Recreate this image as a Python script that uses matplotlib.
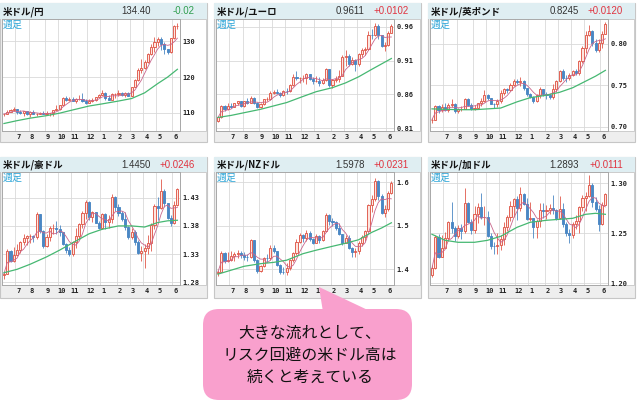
import numpy as np
import pandas as pd
import matplotlib
matplotlib.use('Agg')
import matplotlib.pyplot as plt
from matplotlib.patches import Rectangle, FancyBboxPatch, Polygon

plt.rcParams['font.family'] = ['Noto Sans CJK JP', 'DejaVu Sans']

# ---------------- data ----------------
weeks = np.arange(54)
month_labels = ['7', '8', '9', '10', '11', '12', '1', '2', '3', '4', '5', '6']
month_start = [4, 8, 13, 17, 21, 26, 30, 35, 39, 43, 47, 52]
ma_idx = [0, 4, 8, 13, 17, 21, 26, 30, 35, 39, 43, 47, 50, 53]

# USD/JPY
jpy_open0 = 109.55
jpy_close = [109.67,110.21,110.75,111.05,110.14,110.07,110.55,109.72,110.25,109.59,109.78,109.84,109.71,109.93,109.94,110.73,111.05,112.21,114.21,113.49,113.95,113.40,113.86,114.01,113.38,112.80,113.39,113.72,114.42,115.08,115.56,114.18,113.70,115.23,115.28,115.42,115.00,115.55,114.83,117.29,119.18,122.05,122.50,124.34,126.43,128.50,129.80,130.56,129.25,127.87,127.10,130.89,134.39,134.40]
jpy_high = [109.80,110.82,111.00,111.66,111.10,110.70,110.59,110.59,110.37,110.80,109.90,110.25,110.42,110.45,110.08,110.79,112.08,112.25,114.47,114.70,114.30,114.44,114.17,114.97,115.52,113.90,113.95,114.26,114.50,115.20,116.35,115.85,114.94,115.69,115.51,116.34,115.86,115.80,115.80,117.35,119.40,122.43,125.10,124.69,126.68,129.40,131.25,131.34,131.35,129.77,128.00,130.98,134.56,135.19]
jpy_low = [109.18,109.60,110.10,110.42,109.53,109.70,109.07,109.36,108.72,109.55,109.11,109.60,109.59,109.57,109.11,109.11,110.80,110.83,112.05,113.40,113.26,113.30,112.73,113.60,113.05,112.53,112.95,113.12,113.31,114.34,115.00,113.48,113.47,113.47,114.15,114.82,114.76,114.40,114.65,114.65,117.17,118.90,121.28,122.39,124.08,126.25,126.94,128.62,127.52,126.36,126.36,126.86,130.77,133.60]
jpy_ma26 = [107.0,107.8,108.5,109.2,109.9,110.8,111.9,112.5,113.3,114.0,115.6,118.2,120.0,122.2]

# USD/EUR
eur_open0 = 0.8212
eur_close = [0.8260,0.8429,0.8378,0.8428,0.8420,0.8470,0.8496,0.8425,0.8502,0.8478,0.8549,0.8478,0.8418,0.8465,0.8527,0.8533,0.8624,0.8642,0.8621,0.8589,0.8650,0.8645,0.8738,0.8860,0.8836,0.8836,0.8836,0.8897,0.8833,0.8795,0.8804,0.8763,0.8814,0.8972,0.8734,0.8811,0.8833,0.8873,0.9149,0.9164,0.9050,0.9103,0.9053,0.9195,0.9251,0.9264,0.9483,0.9479,0.9606,0.9470,0.9320,0.9328,0.9508,0.9611]
eur_high = [0.8275,0.8445,0.8445,0.8470,0.8475,0.8480,0.8510,0.8505,0.8510,0.8540,0.8570,0.8560,0.8490,0.8480,0.8535,0.8560,0.8650,0.8665,0.8675,0.8630,0.8660,0.8700,0.8755,0.8905,0.8940,0.8860,0.8880,0.8920,0.8900,0.8850,0.8870,0.8850,0.8840,0.8990,0.8980,0.8830,0.8870,0.8960,0.9180,0.9260,0.9190,0.9150,0.9120,0.9210,0.9290,0.9300,0.9530,0.9560,0.9660,0.9640,0.9470,0.9380,0.9530,0.9640]
eur_low = [0.8200,0.8250,0.8360,0.8375,0.8400,0.8410,0.8450,0.8410,0.8410,0.8460,0.8470,0.8460,0.8400,0.8400,0.8440,0.8500,0.8520,0.8610,0.8600,0.8565,0.8570,0.8610,0.8630,0.8720,0.8810,0.8770,0.8780,0.8760,0.8820,0.8760,0.8780,0.8730,0.8750,0.8800,0.8710,0.8700,0.8780,0.8780,0.8870,0.9020,0.9020,0.9030,0.8950,0.9020,0.9150,0.9180,0.9250,0.9420,0.9460,0.9420,0.9300,0.9240,0.9310,0.9500]
eur_ma26 = [0.826,0.829,0.833,0.838,0.843,0.848,0.857,0.864,0.870,0.877,0.886,0.897,0.905,0.913]

# USD/GBP
gbp_open0 = 0.7075
gbp_close = [0.7086,0.7244,0.7205,0.7234,0.7197,0.7266,0.7274,0.7193,0.7208,0.7211,0.7339,0.7266,0.7212,0.7230,0.7280,0.7313,0.7380,0.7345,0.7275,0.7270,0.7308,0.7409,0.7455,0.7440,0.7499,0.7557,0.7539,0.7555,0.7462,0.7390,0.7358,0.7313,0.7381,0.7460,0.7390,0.7377,0.7357,0.7457,0.7546,0.7672,0.7587,0.7584,0.7628,0.7672,0.7654,0.7791,0.7952,0.8107,0.8157,0.8006,0.7924,0.8006,0.8123,0.8245]
gbp_high = [0.7110,0.7260,0.7260,0.7270,0.7285,0.7290,0.7340,0.7290,0.7225,0.7250,0.7350,0.7350,0.7280,0.7260,0.7290,0.7350,0.7445,0.7390,0.7350,0.7290,0.7330,0.7440,0.7470,0.7470,0.7525,0.7570,0.7580,0.7600,0.7560,0.7470,0.7405,0.7370,0.7400,0.7480,0.7460,0.7420,0.7380,0.7520,0.7560,0.7690,0.7700,0.7620,0.7650,0.7690,0.7700,0.7800,0.7970,0.8150,0.8230,0.8170,0.8060,0.8060,0.8150,0.8260]
gbp_low = [0.7040,0.7075,0.7160,0.7175,0.7185,0.7180,0.7240,0.7170,0.7170,0.7195,0.7210,0.7250,0.7200,0.7200,0.7210,0.7250,0.7300,0.7320,0.7270,0.7230,0.7240,0.7290,0.7385,0.7410,0.7430,0.7490,0.7510,0.7490,0.7440,0.7370,0.7350,0.7290,0.7300,0.7350,0.7370,0.7340,0.7330,0.7330,0.7420,0.7540,0.7560,0.7540,0.7560,0.7610,0.7620,0.7630,0.7770,0.7890,0.8090,0.7980,0.7900,0.7900,0.7950,0.8120]
gbp_ma26 = [0.7215,0.7210,0.7205,0.7205,0.7215,0.7225,0.7300,0.7350,0.7380,0.7415,0.7470,0.7550,0.7610,0.7680]

# USD/AUD
aud_open0 = 1.2930
aud_close = [1.2953,1.3351,1.3184,1.3280,1.3369,1.3523,1.3578,1.3615,1.3615,1.3605,1.4006,1.3708,1.3450,1.3605,1.3765,1.3765,1.3746,1.3689,1.3486,1.3378,1.3298,1.3523,1.3615,1.3831,1.4035,1.4225,1.3957,1.4045,1.3860,1.3765,1.4006,1.3870,1.3928,1.4306,1.4144,1.4025,1.3918,1.3784,1.3596,1.3689,1.3514,1.3324,1.3360,1.3414,1.3504,1.3822,1.4154,1.4124,1.4420,1.4205,1.3947,1.3860,1.4164,1.4450]
aud_high = [1.2990,1.3390,1.3370,1.3420,1.3480,1.3530,1.3660,1.3640,1.3660,1.3640,1.4045,1.4020,1.3730,1.3650,1.3800,1.3840,1.3890,1.3810,1.3700,1.3500,1.3430,1.3540,1.3760,1.3850,1.4070,1.4260,1.4240,1.4070,1.4040,1.3880,1.4030,1.4030,1.3990,1.4370,1.4330,1.4190,1.4060,1.4050,1.3800,1.3760,1.3720,1.3550,1.3450,1.3480,1.3630,1.3850,1.4190,1.4320,1.4640,1.4460,1.4200,1.3990,1.4240,1.4470]
aud_low = [1.2860,1.2940,1.3160,1.3160,1.3260,1.3320,1.3460,1.3460,1.3490,1.3520,1.3570,1.3670,1.3410,1.3420,1.3540,1.3650,1.3650,1.3620,1.3460,1.3320,1.3260,1.3270,1.3400,1.3560,1.3760,1.3920,1.3910,1.3870,1.3850,1.3750,1.3750,1.3740,1.3770,1.3860,1.4070,1.3980,1.3890,1.3720,1.3570,1.3560,1.3460,1.3300,1.3180,1.3050,1.3310,1.3360,1.3750,1.3900,1.4100,1.4130,1.3930,1.3800,1.3830,1.4150]
aud_ma26 = [1.297,1.303,1.312,1.325,1.337,1.350,1.366,1.374,1.380,1.380,1.378,1.386,1.389,1.390]

# USD/NZD
nzd_open0 = 1.3920
nzd_close = [1.3947,1.4378,1.4194,1.4225,1.4306,1.4347,1.4378,1.4327,1.4286,1.4276,1.4663,1.4205,1.3957,1.4075,1.4265,1.4255,1.4482,1.4420,1.4094,1.3947,1.3937,1.4025,1.4205,1.4368,1.4631,1.4782,1.4717,1.4837,1.4695,1.4609,1.4771,1.4684,1.4892,1.5256,1.5117,1.5083,1.4948,1.4815,1.4609,1.4728,1.4482,1.4399,1.4420,1.4609,1.4749,1.4881,1.5480,1.5625,1.6026,1.5674,1.5302,1.5385,1.5760,1.5978]
nzd_high = [1.3990,1.4410,1.4400,1.4400,1.4410,1.4400,1.4450,1.4420,1.4400,1.4350,1.4700,1.4680,1.4230,1.4110,1.4290,1.4350,1.4560,1.4550,1.4430,1.4130,1.4050,1.4140,1.4230,1.4390,1.4700,1.4830,1.4810,1.4900,1.4880,1.4720,1.4810,1.4800,1.4910,1.5300,1.5280,1.5180,1.5120,1.5060,1.4820,1.4800,1.4800,1.4520,1.4480,1.4650,1.4780,1.4900,1.5510,1.5700,1.6100,1.6050,1.5720,1.5470,1.5800,1.6030]
nzd_low = [1.3850,1.3930,1.4150,1.4160,1.4200,1.4200,1.4270,1.4260,1.4220,1.4200,1.4250,1.4180,1.3920,1.3930,1.4050,1.4180,1.4220,1.4370,1.4080,1.3900,1.3890,1.3880,1.3990,1.4180,1.4340,1.4600,1.4620,1.4650,1.4660,1.4590,1.4600,1.4610,1.4660,1.4850,1.5010,1.5000,1.4910,1.4800,1.4570,1.4600,1.4460,1.4280,1.4280,1.4350,1.4540,1.4660,1.4860,1.5310,1.5560,1.5600,1.5270,1.5200,1.5330,1.5740]
nzd_ma26 = [1.389,1.398,1.407,1.413,1.416,1.421,1.436,1.444,1.453,1.460,1.468,1.485,1.495,1.507]

# USD/CAD
cad_open0 = 1.2085
cad_close = [1.2150,1.2460,1.2265,1.2355,1.2455,1.2615,1.2550,1.2475,1.2550,1.2520,1.2800,1.2610,1.2530,1.2690,1.2760,1.2660,1.2660,1.2475,1.2375,1.2370,1.2385,1.2445,1.2565,1.2660,1.2775,1.2840,1.2755,1.2895,1.2795,1.2640,1.2650,1.2560,1.2620,1.2735,1.2720,1.2735,1.2755,1.2735,1.2650,1.2745,1.2590,1.2500,1.2480,1.2590,1.2620,1.2765,1.2850,1.2875,1.2985,1.2815,1.2740,1.2590,1.2782,1.2893]
cad_high = [1.2185,1.2480,1.2490,1.2480,1.2510,1.2620,1.2810,1.2570,1.2580,1.2590,1.2950,1.2810,1.2640,1.2770,1.2800,1.2900,1.2770,1.2720,1.2500,1.2410,1.2500,1.2480,1.2610,1.2680,1.2820,1.2850,1.2870,1.2960,1.2900,1.2850,1.2810,1.2650,1.2640,1.2800,1.2800,1.2780,1.2790,1.2880,1.2740,1.2870,1.2800,1.2610,1.2540,1.2610,1.2680,1.2770,1.2880,1.2910,1.3080,1.3000,1.2860,1.2780,1.2810,1.2900]
cad_low = [1.2060,1.2140,1.2250,1.2260,1.2350,1.2420,1.2500,1.2420,1.2450,1.2440,1.2500,1.2600,1.2490,1.2500,1.2600,1.2640,1.2580,1.2460,1.2340,1.2290,1.2290,1.2330,1.2380,1.2520,1.2620,1.2660,1.2630,1.2720,1.2780,1.2630,1.2620,1.2450,1.2450,1.2560,1.2650,1.2640,1.2690,1.2690,1.2630,1.2640,1.2560,1.2470,1.2400,1.2450,1.2540,1.2500,1.2720,1.2720,1.2860,1.2760,1.2720,1.2520,1.2580,1.2780]
cad_ma26 = [1.249,1.243,1.241,1.241,1.243,1.247,1.256,1.261,1.263,1.264,1.265,1.269,1.270,1.269]

titles = ['米ドル/円', '米ドル/ユーロ', '米ドル/英ポンド', '米ドル/豪ドル', '米ドル/NZドル', '米ドル/加ドル']
prices = ['134.40', '0.9611', '0.8245', '1.4450', '1.5978', '1.2893']
changes = ['-0.02', '+0.0102', '+0.0120', '+0.0246', '+0.0231', '+0.0111']
yticks = [[110, 120, 130], [0.81, 0.86, 0.91, 0.96], [0.70, 0.75, 0.80],
          [1.28, 1.33, 1.38, 1.43], [1.4, 1.5, 1.6], [1.20, 1.25, 1.30]]
ytick_labels = [['110', '120', '130'], ['0.81', '0.86', '0.91', '0.96'], ['0.70', '0.75', '0.80'],
                ['1.28', '1.33', '1.38', '1.43'], ['1.4', '1.5', '1.6'], ['1.20', '1.25', '1.30']]
ylims = [(104.9, 136.3), (0.806, 0.9713), (0.6948, 0.830), (1.2752, 1.4756), (1.364, 1.6237), (1.1983, 1.3113)]

callout_lines = ['大きな流れとして、', 'リスク回避の米ドル高は', '続くと考えている']

pairs = [
    (jpy_open0, jpy_close, jpy_high, jpy_low, jpy_ma26),
    (eur_open0, eur_close, eur_high, eur_low, eur_ma26),
    (gbp_open0, gbp_close, gbp_high, gbp_low, gbp_ma26),
    (aud_open0, aud_close, aud_high, aud_low, aud_ma26),
    (nzd_open0, nzd_close, nzd_high, nzd_low, nzd_ma26),
    (cad_open0, cad_close, cad_high, cad_low, cad_ma26),
]

# ---------------- style ----------------
RED = '#e0584a'
UPFILL = '#fde6e0'
BLUE = '#4a87c4'
GREEN_MA = '#46b872'
PINK_MA = '#c9668c'
HEADER_BG = '#dfeef2'
PANEL_BG = '#eeeeee'
GRID = '#d9d9d9'
BUBBLE = '#f9a0cd'

W, H = 638, 404
fig = plt.figure(figsize=(W / 100, H / 100), dpi=100)
fig.patch.set_facecolor('white')

bg = fig.add_axes([0, 0, 1, 1], zorder=0)
bg.set_xlim(0, W)
bg.set_ylim(H, 0)
bg.axis('off')

overlay = fig.add_axes([0, 0, 1, 1], zorder=10)
overlay.set_xlim(0, W)
overlay.set_ylim(H, 0)
overlay.axis('off')
overlay.patch.set_alpha(0)

col_x0 = [0, 214, 428]
rows = [dict(hy=3, hh=16, py=19, ph=112, pb=142),
        dict(hy=157, hh=15, py=172, ph=113, pb=298)]
PW = 207
PLOT_W = 178

mono = ['DejaVu Sans Mono']
narrow = ['Liberation Sans Narrow', 'Liberation Sans', 'DejaVu Sans']

for k in range(6):
    r = rows[k // 3]
    x0 = col_x0[k % 3]
    # panel frame
    bg.add_patch(Rectangle((x0, r['hy']), PW, r['pb'] - r['hy'], facecolor=PANEL_BG,
                           edgecolor='#c6c6c6', lw=0.8))
    bg.add_patch(Rectangle((x0, r['hy']), PW, r['hh'], facecolor=HEADER_BG, edgecolor='none'))
    bg.add_patch(Rectangle((x0 + 2 + PLOT_W, r['py']), PW - PLOT_W - 3, r['ph'],
                           facecolor='white', edgecolor='#c6c6c6', lw=0.6))
    # header texts
    hc = r['hy'] + r['hh'] / 2 + 0.5
    bg.text(x0 + 3, hc, titles[k], fontsize=6.8, fontweight='bold', color='#111111',
            ha='left', va='center', family=['Noto Sans CJK JP', 'DejaVu Sans'])
    bg.text(x0 + 151, hc, prices[k], fontsize=6.9, color='#333333', ha='right', va='center',
            family=narrow)
    bg.text(x0 + 195, hc, changes[k], fontsize=6.9, ha='right', va='center', family=narrow,
            color='#2f9e4f' if changes[k].startswith('-') else '#e0333f')

    # plot axes
    ax = fig.add_axes([(x0 + 2) / W, 1 - (r['py'] + r['ph']) / H, PLOT_W / W, r['ph'] / H], zorder=2)
    o0, c, h, l, ma = pairs[k]
    c = np.asarray(c); h = np.asarray(h); l = np.asarray(l)
    o = np.r_[o0, c[:-1]]
    up = c >= o
    dn = ~up
    ax.vlines(weeks[up], l[up], h[up], color=RED, lw=0.6, zorder=3)
    ax.vlines(weeks[dn], l[dn], h[dn], color=BLUE, lw=0.6, zorder=3)
    ax.bar(weeks[up], (c - o)[up], bottom=o[up], width=0.64, facecolor=UPFILL,
           edgecolor=RED, lw=0.65, zorder=4)
    ax.bar(weeks[dn], (o - c)[dn], bottom=c[dn], width=0.64, facecolor=BLUE,
           edgecolor=BLUE, lw=0.65, zorder=4)
    short_ma = pd.Series(c).rolling(5, min_periods=1).mean()
    ax.plot(weeks, short_ma, color=PINK_MA, lw=0.6, zorder=5)
    ax.plot(ma_idx, ma, color=GREEN_MA, lw=0.9, zorder=5)

    ax.set_xlim(-0.6, 53.8)
    ax.set_ylim(*ylims[k])
    ax.set_yticks(yticks[k])
    ax.set_yticklabels(ytick_labels[k], family=mono, fontsize=5, color='#222222',
                       fontweight='bold')
    ax.yaxis.tick_right()
    ax.set_xticks(np.array(month_start) + 0.5)
    ax.set_xticklabels(month_labels, family=mono, fontsize=5, color='#222222',
                       fontweight='bold')
    ax.set_xticks(np.array(month_start) - 0.5, minor=True)
    ax.tick_params(which='both', length=0)
    ax.tick_params(axis='y', pad=2)
    ax.tick_params(axis='x', pad=2.2)
    ax.grid(True, which='minor', axis='x', color=GRID, lw=0.6, zorder=0)
    ax.grid(True, which='major', axis='y', color=GRID, lw=0.6, zorder=0)
    ax.set_axisbelow(True)
    for s in ax.spines.values():
        s.set_color('#a8a8a8')
        s.set_linewidth(0.7)
    ax.text(0.004, 0.995, '週足', transform=ax.transAxes, ha='left', va='top',
            fontsize=7.2, color='#2ea6d8', family=['Noto Sans CJK JP', 'DejaVu Sans'], zorder=6)

# callout bubble
overlay.add_patch(FancyBboxPatch((203, 309), 209, 91,
                                 boxstyle='round,pad=0,rounding_size=16',
                                 facecolor=BUBBLE, edgecolor='none'))
overlay.add_patch(Polygon([(319, 287), (323, 312), (372, 312)], closed=True,
                          facecolor=BUBBLE, edgecolor='none'))
for i, line in enumerate(callout_lines):
    overlay.text(310, 333 + 22 * i, line, fontsize=11.4, color='#111111', ha='center',
                 va='center', family=['Noto Sans CJK JP', 'DejaVu Sans'])

fig.savefig('out.png', dpi=100, facecolor='white')
